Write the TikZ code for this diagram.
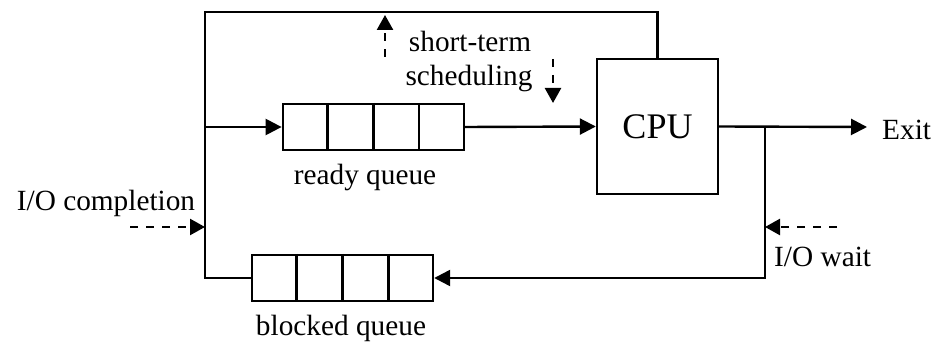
\documentclass[tikz,border=0pt]{standalone}
\usepackage{fontspec}
\setmainfont{Liberation Serif}
\usetikzlibrary{arrows.meta,calc}
\begin{document}
\begin{tikzpicture}[x=1pt, y=-1pt, line width=2.4pt,
  queue/.style={draw, minimum width=181pt, minimum height=46pt, inner sep=0pt},
  cpubox/.style={draw, minimum width=121pt, minimum height=135pt, inner sep=0pt,
    font=\fontsize{36}{40}\selectfont},
  lbl/.style={font=\fontsize{29.3}{32}\selectfont, inner sep=0pt},
  flow/.style={-{Triangle[length=16pt,width=16pt]}},
  signal/.style={dash pattern=on 8pt off 8pt, -{Triangle[length=15pt,width=16pt]}}]
\useasboundingbox (0,0) rectangle (933,344);

% queues and processor
\node[queue] (rq) at (373.3,127) {};
\node[queue] (bq) at (342.5,278) {};
\foreach \q in {rq,bq}
  \foreach \i in {1,2,3}
    \draw ($(\q.north west)!\i/4!(\q.north east)$) -- ($(\q.south west)!\i/4!(\q.south east)$);
\node[cpubox] (cpu) at (657.5,126.5) {CPU};

% labels
\node[lbl, anchor=base] (rql) at (365,185) {ready queue};
\node[lbl, anchor=base] (bql) at (341,335) {blocked queue};
\node[lbl, anchor=base] (st1) at (470,51.5) {short-term};
\node[lbl, anchor=base] (st2) at (469,86) {scheduling};
\node[lbl, anchor=base] (ioc) at (106,211) {I/O completion};
\node[lbl, anchor=base west] (iow) at (773,266) {I/O wait};
\node[lbl, anchor=base west] (exit) at (881,140) {Exit};

% junction points
\coordinate (tl) at (205,12);
\coordinate (bl) at (205,278);
\coordinate (jr) at (205,127);
\coordinate (jw) at (765,127);
\coordinate (ex) at (867,127);
\coordinate (ioc0) at (130,227);
\coordinate (ioc1) at (205,227);
\coordinate (iow0) at (837,227);
\coordinate (iow1) at (765,227);
\coordinate (up0) at (385,57);
\coordinate (up1) at (385,15);
\coordinate (dn0) at (553,59);
\coordinate (dn1) at (553,103);

% main flow
\draw (cpu.north) |- (tl) -- (bl) -- (bq.west);
\draw[flow] (jr) -- (rq.west);
\draw[flow] (rq.east) -- (cpu.west);
\draw[flow] (cpu.east) -- (ex);
\draw[flow] (jw) |- (bq.east);

% events
\draw[signal] (ioc0) -- (ioc1);
\draw[signal] (iow0) -- (iow1);
\draw[signal] (up0) -- (up1);
\draw[signal] (dn0) -- (dn1);
\end{tikzpicture}
\end{document}
